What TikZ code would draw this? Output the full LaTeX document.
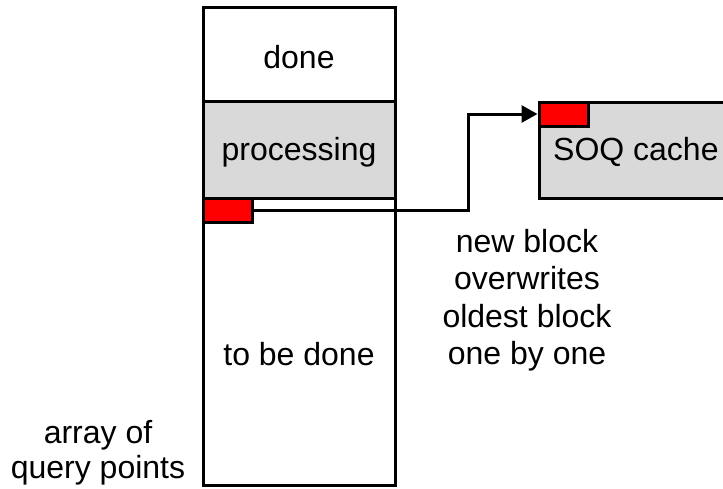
\documentclass[tikz,border=0pt]{standalone}
\usepackage{fontspec}
\setmainfont{Liberation Sans}
\usetikzlibrary{arrows.meta}
\definecolor{boxgray}{HTML}{D9D9D9}
\definecolor{blockred}{HTML}{FF0000}
\tikzset{
  cell/.style={draw=black, line width=3pt, inner sep=0pt, outer sep=0pt},
  blk/.style={draw=black, fill=blockred, line width=3pt, inner sep=0pt,
              minimum width=49pt, minimum height=24pt},
  txt/.style={font=\fontsize{32}{37.5}\selectfont, align=center, inner sep=0pt},
  flow/.style={line width=3pt, -{Triangle[length=16pt,width=17pt]}}
}
\begin{document}
\begin{tikzpicture}[x=1pt,y=-1pt]
\useasboundingbox (0,0) rectangle (723,488);
\clip (0,0) rectangle (723,488);
% array of query points, split into three parts
\node[cell, minimum width=192pt, minimum height=94pt] (done) at (299,54) {};
\node[cell, fill=boxgray, minimum width=192pt, minimum height=97pt] (proc) at (299,149.5) {};
\node[cell, minimum width=192pt, minimum height=287pt] (todo) at (299,341.5) {};
\node[txt] (tdone) at (299,57) {done};
\node[txt] (tproc) at (299,152) {processing};
\node[txt] (ttodo) at (299,354) {to be done};
% current block being read
\node[blk] (newblk) at (227.5,210) {};
% SOQ cache with its oldest block
\node[cell, fill=boxgray, minimum width=221pt, minimum height=96pt] (soq) at (649.5,150) {};
\node[txt, anchor=west] (tsoq) at (553,152) {SOQ cache};
\node[blk] (oldblk) at (563.5,114) {};
% block transfer
\draw[flow] (newblk.east) -- ++(215,0) |- (oldblk.west);
% labels
\node[txt] (note) at (527,300) {new block\\overwrites\\oldest block\\one by one};
\node[txt, font=\fontsize{32}{35}\selectfont] (arr) at (98,453) {array of\\query points};
\end{tikzpicture}
\end{document}
